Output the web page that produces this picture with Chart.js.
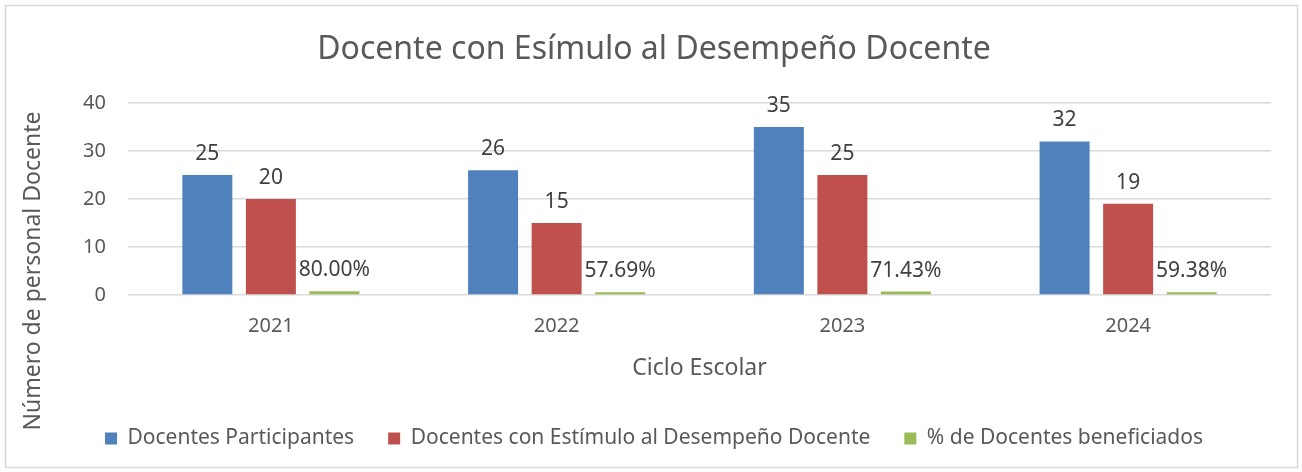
<!DOCTYPE html>
<html>
<head>
<meta charset="utf-8">
<script src="https://cdn.jsdelivr.net/npm/chart.js@4"></script>
<style>
  body { margin: 0; background: #fff; }
</style>
</head>
<body>
<canvas id="chart" width="1302" height="472"></canvas>
<script>
// datos
const years = ["2021", "2022", "2023", "2024"];
const participantes = [25, 26, 35, 32];
const conEstimulo = [20, 15, 25, 19];
const beneficiados = [0.8, 0.5769, 0.7143, 0.5938];
const yTicks = [0, 10, 20, 30, 40];

const gris = "#595959";
const fuente = "'Noto Sans', sans-serif";

// marco del grafico
const marco = {
  id: "marco",
  afterDraw(chart) {
    const c = chart.ctx;
    c.save();
    c.strokeStyle = "#d9d9d9";
    c.lineWidth = 1.5;
    c.strokeRect(5.5, 5.5, 1292, 462);
    c.restore();
  }
};

// titulo del eje y
const tituloY = {
  id: "tituloY",
  afterDraw(chart) {
    const c = chart.ctx;
    c.save();
    c.translate(33, 271);
    c.rotate(-Math.PI / 2);
    c.font = "23px " + fuente;
    c.fillStyle = gris;
    c.textAlign = "center";
    c.textBaseline = "middle";
    c.fillText("Número de personal Docente", 0, 0);
    c.restore();
  }
};

// etiquetas encima de las barras
const etiquetas = {
  id: "etiquetas",
  afterDatasetsDraw(chart) {
    const c = chart.ctx;
    c.save();
    c.font = "21px " + fuente;
    c.fillStyle = "#404040";
    c.textAlign = "center";
    c.textBaseline = "middle";
    chart.data.datasets.forEach((ds, i) => {
      chart.getDatasetMeta(i).data.forEach((bar, j) => {
        const v = ds.data[j];
        const txt = i === 2 ? (v * 100).toFixed(2) + "%" : String(v);
        c.fillText(txt, bar.x, bar.y - 21);
      });
    });
    c.restore();
  }
};

new Chart(document.getElementById("chart"), {
  type: "bar",
  data: {
    labels: years,
    datasets: [
      { label: "Docentes Participantes", data: participantes, backgroundColor: "#4f81bd" },
      { label: "Docentes con Estímulo al Desempeño Docente", data: conEstimulo, backgroundColor: "#c0504d" },
      { label: "% de Docentes beneficiados", data: beneficiados, backgroundColor: "#9bbb59" }
    ]
  },
  options: {
    responsive: false,
    animation: false,
    datasets: { bar: { categoryPercentage: 0.667, barPercentage: 0.787 } },
    layout: { padding: { left: 37, right: 31, top: 0, bottom: 13 } },
    plugins: {
      title: {
        display: true,
        text: "Docente con Esímulo al Desempeño Docente",
        color: gris,
        font: { family: fuente, size: 32, weight: "normal" },
        padding: { top: 31, bottom: 33.6 }
      },
      legend: {
        position: "bottom",
        labels: {
          color: gris,
          font: { family: fuente, size: 21 },
          boxWidth: 12,
          boxHeight: 12,
          padding: 34
        }
      },
      tooltip: { enabled: false }
    },
    scales: {
      x: {
        grid: { display: false },
        border: { display: false },
        ticks: { color: gris, font: { family: fuente, size: 20 }, padding: 11 },
        title: {
          display: true,
          text: "Ciclo Escolar",
          color: gris,
          font: { family: fuente, size: 23 },
          padding: { top: 6, bottom: 12 }
        },
        afterFit(s) { s.height = 99; }
      },
      y: {
        min: 0,
        max: 40,
        afterBuildTicks(s) { s.ticks = yTicks.map(v => ({ value: v })); },
        grid: { color: "#d9d9d9", lineWidth: 1.5, drawTicks: false },
        border: { display: false },
        ticks: { color: gris, font: { family: fuente, size: 20 }, padding: 22 },
        afterFit(s) { s.width = 91; }
      }
    }
  },
  plugins: [marco, tituloY, etiquetas]
});
</script>
</body>
</html>
